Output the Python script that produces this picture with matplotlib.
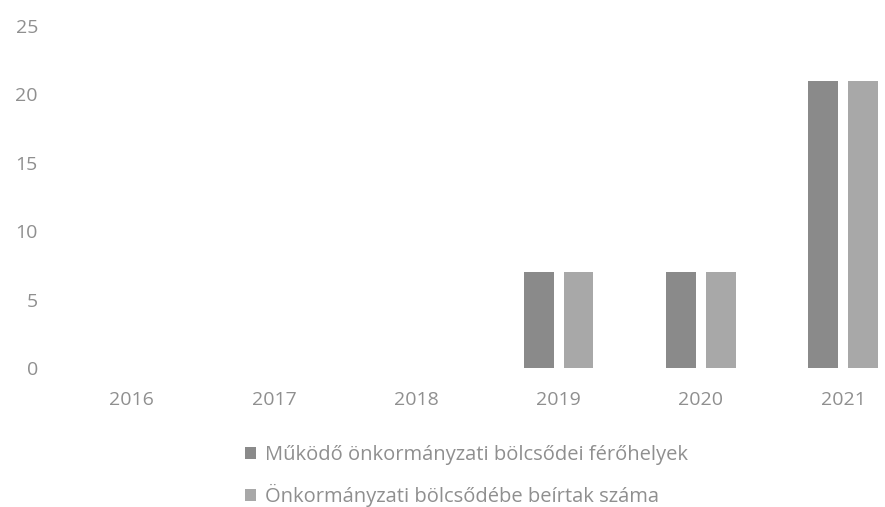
import matplotlib
matplotlib.use("Agg")
import matplotlib.pyplot as plt
import numpy as np

years = ["2016", "2017", "2018", "2019", "2020", "2021"]
ferohelyek = [0, 0, 0, 7, 7, 21]
beirtak = [0, 0, 0, 7, 7, 21]
labels = ["Működő önkormányzati bölcsődei férőhelyek",
          "Önkormányzati bölcsődébe beírtak száma"]
yticks = [0, 5, 10, 15, 20, 25]

TXT = "#8f8f8f"
DARK, LIGHT = "#8a8a8a", "#a8a8a8"
plt.rcParams["font.family"] = ["Open Sans", "DejaVu Sans"]

W, H = 885, 507
fig = plt.figure(figsize=(W / 100, H / 100), dpi=100)
ax = fig.add_axes([40 / W, (H - 368) / H, (885 - 40) / W, (368 - 26) / H])

x = np.arange(len(years))
bw, off = 0.21, 0.14
b1 = ax.bar(x - off, ferohelyek, bw, color=DARK, label=labels[0])
b2 = ax.bar(x + off, beirtak, bw, color=LIGHT, label=labels[1])

ax.set_xlim(-0.645, 5.295)
ax.set_ylim(0, 25)
ax.set_yticks(yticks)
ax.set_xticks(x)
ax.set_xticklabels(years)
for s in ax.spines.values():
    s.set_visible(False)
ax.tick_params(length=0, colors=TXT, labelsize=14)
ax.tick_params(axis="x", pad=16.5)
ax.tick_params(axis="y", pad=1.5)

fig.legend(handles=[b1, b2], loc="upper left", bbox_to_anchor=(227 / W, 1 - 427 / H),
           frameon=False, fontsize=14.5, labelcolor=TXT, handlelength=0.55,
           handleheight=0.55, handletextpad=0.45, labelspacing=0.95)

fig.savefig("out.png", dpi=100)
